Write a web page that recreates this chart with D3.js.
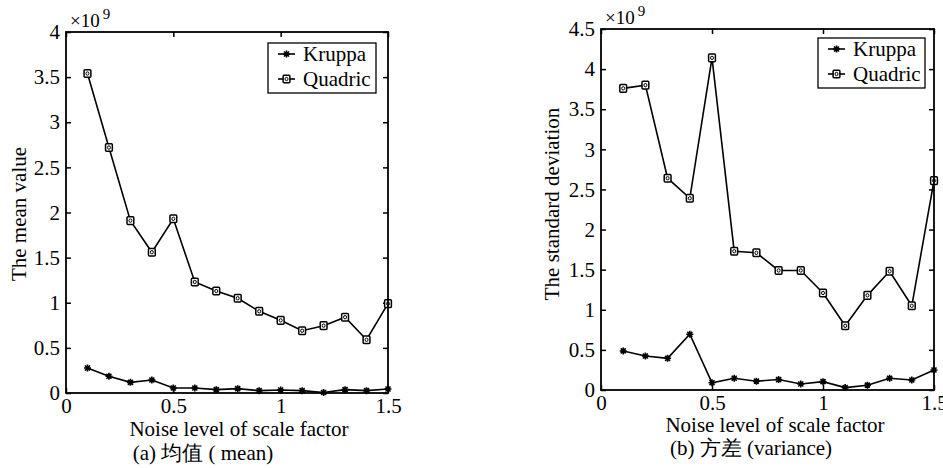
<!DOCTYPE html>
<html>
<head>
<meta charset="utf-8">
<script src="https://cdn.jsdelivr.net/npm/d3@7"></script>
<style>
  body { margin: 0; background: #fff; }
  svg { display: block; font-family: "Liberation Serif", "DejaVu Serif", serif; }
</style>
</head>
<body>
<div id="chart"></div>
<script>
// noise levels (x) shared by both panels
var noiseLevels = [0.1, 0.2, 0.3, 0.4, 0.5, 0.6, 0.7, 0.8, 0.9, 1.0, 1.1, 1.2, 1.3, 1.4, 1.5];

// (a) mean value, units of 1e9
var meanKruppa  = [0.277, 0.185, 0.118, 0.144, 0.055, 0.055, 0.037, 0.048, 0.026, 0.033, 0.026, 0.005, 0.037, 0.026, 0.044];
var meanQuadric = [3.54, 2.72, 1.91, 1.56, 1.93, 1.23, 1.13, 1.05, 0.905, 0.805, 0.69, 0.746, 0.84, 0.59, 0.99];

// (b) standard deviation, units of 1e9
var stdKruppa  = [0.487, 0.424, 0.395, 0.695, 0.09, 0.146, 0.11, 0.13, 0.075, 0.104, 0.03, 0.06, 0.146, 0.125, 0.25];
var stdQuadric = [3.76, 3.80, 2.64, 2.39, 4.14, 1.73, 1.71, 1.49, 1.49, 1.21, 0.80, 1.18, 1.48, 1.05, 2.61];

var xTicks = [0, 0.5, 1, 1.5];
var meanTicks = [0, 0.5, 1, 1.5, 2, 2.5, 3, 3.5, 4];
var stdTicks = [0, 0.5, 1, 1.5, 2, 2.5, 3, 3.5, 4, 4.5];
var seriesNames = ["Kruppa", "Quadric"];

var svg = d3.select("#chart").append("svg")
  .attr("width", 943)
  .attr("height", 468);

// star marker for Kruppa
function star(g) {
  g.append("path")
    .attr("d", "M-3.5,0H3.5M0,-3.5V3.5M-2.5,-2.5L2.5,2.5M-2.5,2.5L2.5,-2.5")
    .attr("stroke", "#000")
    .attr("stroke-width", 1.6);
}
// square marker for Quadric
function square(g) {
  g.append("rect")
    .attr("x", -3.4).attr("y", -3.8)
    .attr("width", 6.8).attr("height", 7.6)
    .attr("rx", 1)
    .attr("fill", "#fff")
    .attr("stroke", "#000")
    .attr("stroke-width", 1.5);
  g.append("ellipse")
    .attr("rx", 1.5).attr("ry", 1.7)
    .attr("fill", "none")
    .attr("stroke", "#000")
    .attr("stroke-width", 1);
}

function drawPanel(p) {
  var width = p.right - p.left;
  var height = p.bottom - p.top;

  var g = svg.append("g")
    .attr("transform", `translate(${p.left}, ${p.top})`);

  var x = d3.scaleLinear().domain([0, 1.5]).range([0, width]);
  var y = d3.scaleLinear().domain([0, p.yMax]).range([height, 0]);

  // axes with inward ticks
  var fmt = d => String(d);
  g.append("g")
    .attr("transform", `translate(0, ${height})`)
    .call(d3.axisBottom(x).tickValues(xTicks).tickFormat(fmt).tickSize(-5).tickSizeOuter(0).tickPadding(5));
  g.append("g")
    .call(d3.axisLeft(y).tickValues(p.yTicks).tickFormat(fmt).tickSize(-5).tickSizeOuter(0).tickPadding(6));
  g.append("g")
    .call(d3.axisTop(x).tickValues(xTicks).tickFormat("").tickSize(-5).tickSizeOuter(0));
  g.append("g")
    .attr("transform", `translate(${width}, 0)`)
    .call(d3.axisRight(y).tickValues(p.yTicks).tickFormat("").tickSize(-5).tickSizeOuter(0));

  g.selectAll(".domain").remove();
  g.selectAll(".tick line").attr("stroke", "#000").attr("stroke-width", 1.5);
  g.selectAll(".tick text")
    .attr("font-size", "21px")
    .attr("font-family", "Liberation Serif, serif")
    .attr("fill", "#000");

  // lines
  var line = d3.line()
    .x((d, i) => x(noiseLevels[i]))
    .y(d => y(d));

  [p.kruppa, p.quadric].forEach(function(vals, si) {
    g.append("path")
      .datum(vals)
      .attr("d", line)
      .attr("fill", "none")
      .attr("stroke", "#000")
      .attr("stroke-width", 1.6);

    vals.forEach(function(v, i) {
      var m = g.append("g")
        .attr("transform", `translate(${x(noiseLevels[i])}, ${y(v)})`);
      if (si === 0) star(m); else square(m);
    });
  });

  // frame
  g.append("rect")
    .attr("width", width)
    .attr("height", height)
    .attr("fill", "none")
    .attr("stroke", "#000")
    .attr("stroke-width", 1.8);

  // x10^9
  var exp = g.append("text")
    .attr("x", 4)
    .attr("y", -5)
    .attr("font-size", "19px")
    .attr("fill", "#000");
  exp.append("tspan").text("×10");
  exp.append("tspan").attr("dy", -8).attr("dx", 3).attr("font-size", "15px").text("9");

  // legend
  var lg = g.append("g")
    .attr("transform", `translate(${p.legendX - p.left}, ${p.legendY - p.top})`);
  lg.append("rect")
    .attr("width", p.legendW)
    .attr("height", 50)
    .attr("fill", "#fff")
    .attr("stroke", "#000")
    .attr("stroke-width", 1.3);
  seriesNames.forEach(function(name, i) {
    var ly = 11 + i * 25;
    lg.append("line")
      .attr("x1", 10).attr("x2", 27)
      .attr("y1", ly).attr("y2", ly)
      .attr("stroke", "#000")
      .attr("stroke-width", 1.6);
    var m = lg.append("g").attr("transform", `translate(18.5, ${ly})`);
    if (i === 0) star(m); else square(m);
    lg.append("text")
      .attr("x", 35)
      .attr("y", ly + 7)
      .attr("font-size", "21px")
      .attr("fill", "#000")
      .text(name);
  });

  // axis labels
  g.append("text")
    .attr("transform", `translate(${p.yLabelX - p.left}, ${p.yLabelY - p.top}) rotate(-90)`)
    .attr("text-anchor", "middle")
    .attr("font-size", "21px")
    .attr("fill", "#000")
    .text(p.yLabel);

  g.append("text")
    .attr("x", p.xLabelX - p.left)
    .attr("y", p.xLabelY - p.top)
    .attr("text-anchor", "middle")
    .attr("font-size", "21px")
    .attr("fill", "#000")
    .text("Noise level of scale factor");

  g.append("text")
    .attr("x", p.captionX - p.left)
    .attr("y", p.captionY - p.top)
    .attr("text-anchor", "middle")
    .attr("font-size", "21px")
    .attr("fill", "#000")
    .text(p.caption);
}

drawPanel({
  left: 66, right: 388, top: 32, bottom: 393,
  yMax: 4, yTicks: meanTicks,
  kruppa: meanKruppa, quadric: meanQuadric,
  legendX: 268, legendY: 43, legendW: 108,
  yLabel: "The mean value", yLabelX: 26, yLabelY: 214,
  xLabelX: 239, xLabelY: 436,
  caption: "(a) 均值 ( mean)", captionX: 203, captionY: 460
});

drawPanel({
  left: 601, right: 934, top: 29, bottom: 390,
  yMax: 4.5, yTicks: stdTicks,
  kruppa: stdKruppa, quadric: stdQuadric,
  legendX: 818, legendY: 38, legendW: 107,
  yLabel: "The standard deviation", yLabelX: 559, yLabelY: 204,
  xLabelX: 775, xLabelY: 432,
  caption: "(b) 方差 (variance)", captionX: 751, captionY: 455
});
</script>
</body>
</html>
